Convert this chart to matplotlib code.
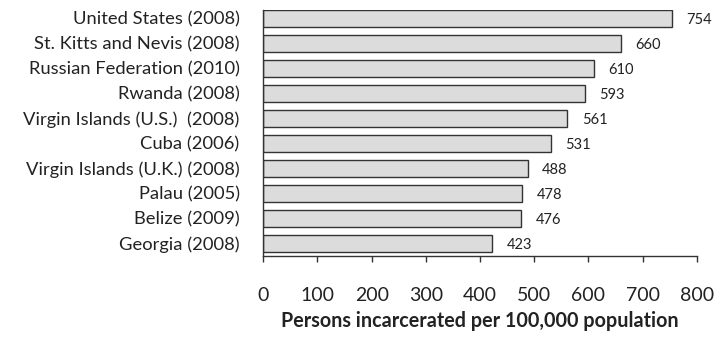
import matplotlib.pyplot as plt

plt.rcParams['font.family'] = ['Lato', 'DejaVu Sans']

# Incarceration rates, highest first
countries = ['United States (2008)', 'St. Kitts and Nevis (2008)',
             'Russian Federation (2010)', 'Rwanda (2008)',
             'Virgin Islands (U.S.)  (2008)', 'Cuba (2006)',
             'Virgin Islands (U.K.) (2008)', 'Palau (2005)',
             'Belize (2009)', 'Georgia (2008)']
rates = [754, 660, 610, 593, 561, 531, 488, 478, 476, 423]
xticks = [0, 100, 200, 300, 400, 500, 600, 700, 800]

fig = plt.figure(figsize=(7.23, 3.39), dpi=100)
ax = fig.add_axes([0.3642, 0.2448, 0.5994, 0.7257])

pos = list(range(len(countries)))[::-1]
ax.barh(pos, rates, height=0.67, color='#dcdcdc', edgecolor='#333333',
        linewidth=1.0)
for y, v in zip(pos, rates):
    ax.text(v + 27, y - 0.05, str(v), va='center', ha='left', fontsize=10.5,
            color='#222222')

ax.set_xlim(0, 800)
ax.set_ylim(-0.51, 9.33)
ax.set_yticks(pos)
ax.set_yticklabels(countries, fontsize=13.2, color='#222222')
ax.set_xticks(xticks)
ax.set_xticklabels([str(t) for t in xticks], fontsize=14, color='#222222')
ax.tick_params(axis='y', length=0, pad=17)
ax.tick_params(axis='x', length=4.5, width=1, color='#333333', pad=18)
for s in ['top', 'right']:
    ax.spines[s].set_visible(False)
for s in ['left', 'bottom']:
    ax.spines[s].set_color('#333333')
    ax.spines[s].set_linewidth(1)
ax.set_xlabel('Persons incarcerated per 100,000 population', fontsize=14.2,
              fontweight='bold', color='#222222', labelpad=5)

fig.savefig('out.png', dpi=100)
